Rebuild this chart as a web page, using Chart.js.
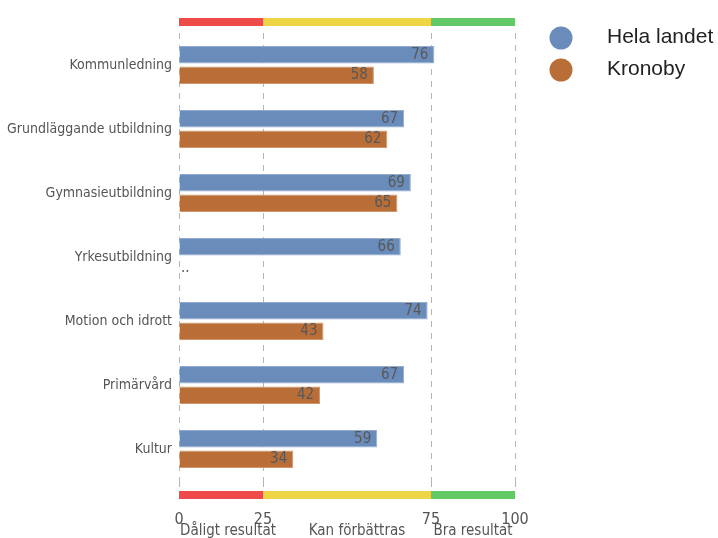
<!DOCTYPE html>
<html>
<head>
<meta charset="utf-8">
<script src="https://cdn.jsdelivr.net/npm/chart.js@4"></script>
<style>
  body { margin: 0; background: #fff; }
  #wrap { width: 718px; height: 538px; position: relative; }
</style>
</head>
<body>
<div id="wrap"><canvas id="resultChart"></canvas></div>
<script>
// Data
const categories = ['Kommunledning', 'Grundläggande utbildning', 'Gymnasieutbildning', 'Yrkesutbildning', 'Motion och idrott', 'Primärvård', 'Kultur'];
const helaLandet = [76, 67, 69, 66, 74, 67, 59];
const kronoby = [58, 62, 65, null, 43, 42, 34];
const seriesNames = ['Hela landet', 'Kronoby'];
const tickValues = [0, 25, 75, 100];
const bandEdges = [0, 25, 75, 100];
const bandLabels = ['Dåligt resultat', 'Kan förbättras', 'Bra resultat'];

const condensed = "'DejaVu Sans Condensed', 'Liberation Sans Narrow', sans-serif";
const blue = '#6a8cbb';
const orange = '#b96e37';
const bandColors = ['#ef4a4a', '#eed545', '#63c966'];

// bands + labels + legend drawn on the canvas
const extrasPlugin = {
    id: 'extras',
    beforeDraw(chart) {
        const ctx = chart.ctx;
        const x = chart.scales.x;
        const area = chart.chartArea;
        ctx.save();
        for (let i = 0; i < bandColors.length; i++) {
            const x0 = x.getPixelForValue(bandEdges[i]);
            const x1 = x.getPixelForValue(bandEdges[i + 1]);
            ctx.fillStyle = bandColors[i];
            ctx.fillRect(x0, area.top - 15, x1 - x0, 8);
            ctx.fillRect(x0, area.bottom + 10, x1 - x0, 8);
        }
        ctx.restore();
    },
    afterDatasetsDraw(chart) {
        const ctx = chart.ctx;
        ctx.save();
        ctx.font = '15px ' + condensed;
        ctx.fillStyle = '#585858';
        ctx.textBaseline = 'middle';
        chart.data.datasets.forEach((ds, di) => {
            const meta = chart.getDatasetMeta(di);
            meta.data.forEach((bar, i) => {
                const v = ds.data[i];
                if (v === null) {
                    ctx.textAlign = 'left';
                    ctx.fillText('..', chart.scales.x.getPixelForValue(0) + 2, bar.y + 1);
                } else {
                    ctx.textAlign = 'right';
                    ctx.fillText(String(v), bar.x - 6, bar.y);
                }
            });
        });
        ctx.restore();
    },
    afterDraw(chart) {
        const ctx = chart.ctx;
        const x = chart.scales.x;
        ctx.save();
        // band captions
        ctx.font = '15px ' + condensed;
        ctx.fillStyle = '#555';
        ctx.textAlign = 'center';
        ctx.textBaseline = 'top';
        for (let i = 0; i < bandLabels.length; i++) {
            const mid = (bandEdges[i] + bandEdges[i + 1]) / 2;
            ctx.fillText(bandLabels[i], x.getPixelForValue(mid) + (i === 0 ? 7 : i === 1 ? 10 : 0), 524);
        }
        // legend
        ctx.font = '21px "Liberation Sans", Arial, sans-serif';
        ctx.textAlign = 'left';
        ctx.textBaseline = 'middle';
        chart.data.datasets.forEach((ds, di) => {
            const cy = 38 + di * 32;
            ctx.fillStyle = ds.backgroundColor;
            ctx.beginPath();
            ctx.arc(561, cy, 11.5, 0, Math.PI * 2);
            ctx.fill();
            ctx.fillStyle = '#222';
            ctx.fillText(ds.label, 607, cy - 1);
        });
        ctx.restore();
    }
};

const ctx = document.getElementById('resultChart').getContext('2d');
new Chart(ctx, {
    type: 'bar',
    data: {
        labels: categories,
        datasets: [
            {
                label: seriesNames[0],
                data: helaLandet,
                backgroundColor: blue,
                borderColor: '#93acd0',
                borderWidth: 1,
                categoryPercentage: 0.64,
                barPercentage: 0.86
            },
            {
                label: seriesNames[1],
                data: kronoby,
                backgroundColor: orange,
                borderColor: '#d09469',
                borderWidth: 1,
                categoryPercentage: 0.64,
                barPercentage: 0.86
            }
        ]
    },
    options: {
        indexAxis: 'y',
        responsive: true,
        maintainAspectRatio: false,
        animation: false,
        layout: {
            padding: { top: 33, right: 203, bottom: 0, left: 0 }
        },
        plugins: {
            legend: { display: false },
            tooltip: { enabled: false }
        },
        scales: {
            x: {
                min: 0,
                max: 100,
                afterBuildTicks: scale => {
                    scale.ticks = tickValues.map(v => ({ value: v }));
                },
                afterFit: scale => { scale.height = 57; },
                grid: {
                    color: '#b5b5b5',
                    lineWidth: 1,
                    drawTicks: true,
                    tickLength: 6
                },
                border: { display: false, dash: [6, 6] },
                ticks: {
                    padding: 23,
                    color: '#555',
                    font: { family: condensed, size: 16 },
                    maxRotation: 0
                }
            },
            y: {
                afterFit: scale => { scale.width = 179; },
                grid: { display: false, drawTicks: false },
                border: { display: false },
                ticks: {
                    padding: 7,
                    color: '#555',
                    font: { family: condensed, size: 14 }
                }
            }
        }
    },
    plugins: [extrasPlugin]
});
</script>
</body>
</html>
